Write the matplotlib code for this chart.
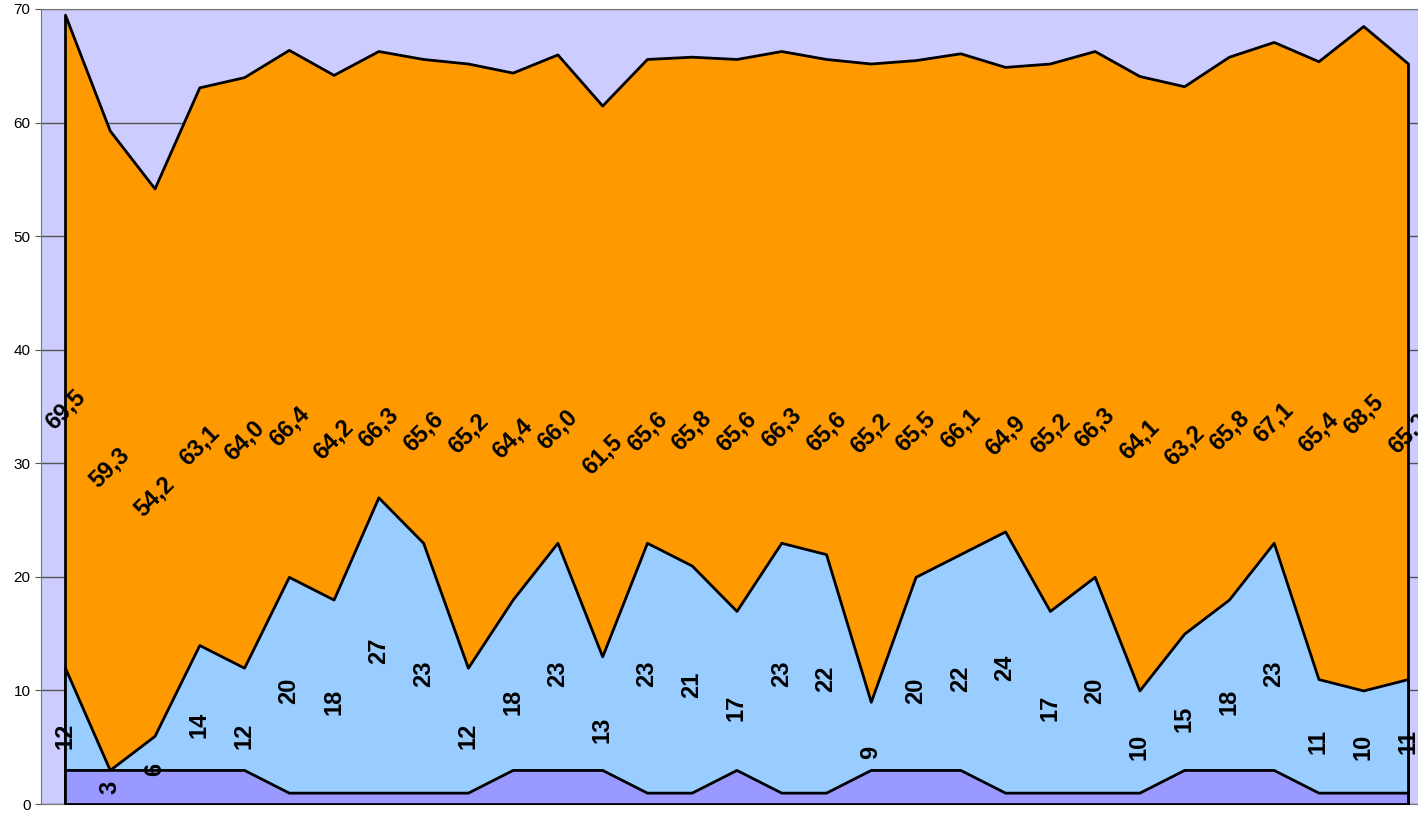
import matplotlib.pyplot as plt
import numpy as np

plt.rcParams['font.family'] = ['Liberation Sans', 'DejaVu Sans']

# values
total = [69.5, 59.3, 54.2, 63.1, 64.0, 66.4, 64.2, 66.3, 65.6, 65.2, 64.4, 66.0, 61.5, 65.6, 65.8, 65.6,
         66.3, 65.6, 65.2, 65.5, 66.1, 64.9, 65.2, 66.3, 64.1, 63.2, 65.8, 67.1, 65.4, 68.5, 65.2]
middle = [12, 3, 6, 14, 12, 20, 18, 27, 23, 12, 18, 23, 13, 23, 21, 17,
          23, 22, 9, 20, 22, 24, 17, 20, 10, 15, 18, 23, 11, 10, 11]
bottom = [3, 3, 3, 3, 3, 1, 1, 1, 1, 1, 3, 3, 3, 1, 1, 3,
          1, 1, 3, 3, 3, 1, 1, 1, 1, 3, 3, 3, 1, 1, 1]
yticks = [0, 10, 20, 30, 40, 50, 60, 70]

x = np.arange(len(total))

fig = plt.figure(figsize=(14.18, 8.19), dpi=100)
ax = fig.add_axes([41 / 1418, 15 / 819, 1 - 41 / 1418, 795 / 819])
ax.set_facecolor('#CCCCFF')

# three overlapping areas, each outlined in black
ax.fill_between(x, total, 0, facecolor='#FF9900', edgecolor='black', linewidth=2, zorder=2)
ax.fill_between(x, middle, 0, facecolor='#99CCFF', edgecolor='black', linewidth=2, zorder=3)
ax.fill_between(x, bottom, 0, facecolor='#9999FF', edgecolor='black', linewidth=2, zorder=4)

# value labels in the middle of each area
for xi, v in zip(x, total):
    ax.text(xi, v / 2, f'{v:.1f}'.replace('.', ','), rotation=45, ha='center', va='center',
            fontsize=17, fontweight='bold', zorder=6)
for xi, v in zip(x, middle):
    ax.text(xi, v / 2, str(v), rotation=90, ha='center', va='center',
            fontsize=17, fontweight='bold', zorder=6)

ax.set_xlim(-24 / 44.77, 30 + 10 / 44.77)
ax.set_ylim(0, 70)
ax.set_yticks(yticks)
ax.set_xticks([])
ax.yaxis.grid(True, color='#555555', linewidth=1)
ax.set_axisbelow(True)
ax.tick_params(axis='y', length=4, color='#555555', labelsize=11)

for side in ['left', 'top', 'bottom']:
    ax.spines[side].set_color('#777777')
ax.spines['right'].set_visible(False)

fig.savefig('out.png', dpi=100)
